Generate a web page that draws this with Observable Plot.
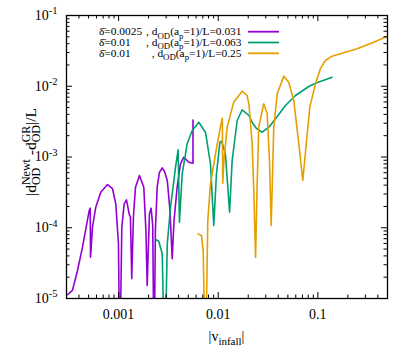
<!DOCTYPE html>
<html><head><meta charset="utf-8">
<script src="https://cdn.jsdelivr.net/npm/d3@7"></script>
<script src="https://cdn.jsdelivr.net/npm/@observablehq/plot@0.6"></script>
<style>
html,body{margin:0;padding:0;background:#fff;}
#chart{width:415px;height:363px;}
</style></head><body><div id="chart"></div>
<script>
// ---- data (1e-6 marks dips to zero below the axis) ----
const purpleV = [3.07e-4,3.44e-4,3.87e-4,4.34e-4,5.07e-4,5.19e-4,5.23e-4,5.47e-4,5.90e-4,6.62e-4,7.74e-4,8.69e-4,9.37e-4,9.97e-4,1.028e-3,1.077e-3,1.138e-3,1.20e-3,1.276e-3,1.315e-3,1.355e-3,1.41e-3,1.478e-3,1.62e-3,1.79e-3,1.88e-3,1.936e-3,2.00e-3,2.04e-3,2.12e-3,2.20e-3,2.27e-3,2.34e-3,2.44e-3,2.57e-3,2.74e-3,2.89e-3,3.08e-3,3.28e-3,3.45e-3,3.60e-3,3.87e-3,4.18e-3,4.51e-3,5.07e-3,5.58e-3,5.58e-3];
const purpleD = [1.13e-5,1.30e-5,2.49e-5,5.31e-5,1.75e-4,1.89e-4,3.84e-5,1.02e-4,1.95e-4,3.18e-4,4.08e-4,3.56e-4,2.18e-4,5.93e-5,1e-6,1.02e-4,2.18e-4,2.48e-4,1.57e-4,1.41e-4,1.90e-5,1.49e-4,3.74e-4,5.48e-4,3.74e-4,9.14e-5,1.53e-5,6.61e-5,1.57e-4,1.89e-4,1.08e-4,1e-6,9.14e-5,3.74e-4,6.04e-4,7.03e-4,6.24e-4,4.66e-4,1.75e-4,3.64e-5,1.26e-4,3.74e-4,8.02e-4,9.93e-4,8.43e-4,8.16e-4,3.33e-3];

const greenV = [2.38e-3,2.53e-3,2.74e-3,2.91e-3,3.08e-3,3.32e-3,3.73e-3,3.96e-3,4.08e-3,4.35e-3,4.88e-3,5.48e-3,6.38e-3,7.45e-3,8.36e-3,9.02e-3,9.60e-3,1.04e-2,1.08e-2,1.18e-2,1.30e-2,1.38e-2,1.55e-2,1.74e-2,2.03e-2,2.19e-2,2.42e-2,2.76e-2,3.22e-2,3.76e-2,4.73e-2,5.96e-2,8.11e-2,9.46e-2,0.139];
const greenD = [6.76e-5,6.46e-5,4.29e-5,1e-6,5.93e-5,1.95e-4,7.18e-4,1.26e-3,1.20e-4,5.79e-4,1.54e-3,2.37e-3,3.10e-3,2.24e-3,8.02e-4,1.08e-4,5.79e-4,1.62e-3,1.67e-3,1.11e-3,1.66e-4,8.93e-4,3.28e-3,4.65e-3,3.86e-3,3.10e-3,2.53e-3,2.24e-3,2.64e-3,3.47e-3,5.35e-3,7.40e-3,9.92e-3,1.10e-2,1.34e-2];

const orangeV = [6.27e-3,6.79e-3,7.06e-3,7.45e-3,7.86e-3,8.36e-3,9.39e-3,1.05e-2,1.10e-2,1.11e-2,1.14e-2,1.23e-2,1.43e-2,1.74e-2,1.95e-2,2.04e-2,2.19e-2,2.28e-2,2.37e-2,2.45e-2,2.55e-2,2.86e-2,3.10e-2,3.27e-2,3.40e-2,3.61e-2,3.91e-2,4.55e-2,5.10e-2,5.73e-2,6.44e-2,7.06e-2,7.82e-2,8.30e-2,9.46e-2,0.106,0.119,0.139,0.182,0.248,0.364,0.50];
const orangeD = [8.20e-5,7.76e-5,4.76e-5,1e-6,1.26e-4,4.18e-4,1.11e-3,2.64e-3,3.53e-3,4.27e-4,8.93e-4,2.64e-3,5.96e-3,8.51e-3,7.40e-3,5.35e-3,1.54e-3,3.02e-4,3.80e-5,3.37e-4,2.64e-3,5.65e-3,4.08e-3,8.93e-4,1.08e-4,2.64e-3,7.82e-3,1.39e-2,1.14e-2,6.30e-3,1.54e-3,4.66e-4,2.13e-3,5.06e-3,1.08e-2,1.77e-2,2.31e-2,2.66e-2,2.97e-2,3.38e-2,4.20e-2,5.09e-2];

const seriesNames  = ["delta0.0025", "delta0.01a", "delta0.01b"];
const seriesColors = ["#9400D3", "#009E73", "#E69F00"];
const legendLeft   = ["δ\u0304=0.0025", "δ\u0304=0.01", "δ\u0304=0.01"];
const legendRight  = ["0.031", "0.063", "0.25"];

const xMajorTicks = [0.001, 0.01, 0.1];
const xTickLabels = ["0.001", "0.01", "0.1"];
const xMinorTicks = [0.0003,0.0004,0.0005,0.0006,0.0007,0.0008,0.0009,0.002,0.003,0.004,0.005,0.006,0.007,0.008,0.009,0.02,0.03,0.04,0.05,0.06,0.07,0.08,0.09,0.2,0.3,0.4];
const yMajorTicks = [1e-5, 1e-4, 1e-3, 1e-2, 1e-1];
const yTickExps   = ["-5", "-4", "-3", "-2", "-1"];
const yMinorTicks = [2e-5,3e-5,4e-5,5e-5,6e-5,7e-5,8e-5,9e-5,2e-4,3e-4,4e-4,5e-4,6e-4,7e-4,8e-4,9e-4,2e-3,3e-3,4e-3,5e-3,6e-3,7e-3,8e-3,9e-3,2e-2,3e-2,4e-2,5e-2,6e-2,7e-2,8e-2,9e-2];

// ---- build table ----
const allV = [purpleV, greenV, orangeV], allD = [purpleD, greenD, orangeD];
const rows = [];
allV.forEach((vs, k) => vs.forEach((v, i) => rows.push({v, d: allD[k][i], s: seriesNames[k]})));

const W = 415, H = 363, mL = 66, mR = 28, mT = 15, mB = 65;
const pw = W - mL - mR, ph = H - mT - mB;
const majL = 6, minL = 3.5;

const svgNode = Plot.plot({
  width: W, height: H,
  marginLeft: mL, marginRight: mR, marginTop: mT, marginBottom: mB,
  style: {fontFamily: "'Liberation Serif', 'Times New Roman', serif", fontSize: "14px", background: "#fff", color: "#000"},
  x: {type: "log", domain: [3e-4, 0.5]},
  y: {type: "log", domain: [1e-5, 0.1]},
  color: {domain: seriesNames, range: seriesColors},
  marks: [
    Plot.line(rows, {x: "v", y: "d", z: "s", stroke: "s", strokeWidth: 1.6, clip: true}),
    // inward ticks, mirrored on all sides
    Plot.tickX(xMajorTicks, {x: d => d, insetTop: ph - majL, stroke: "#000"}),
    Plot.tickX(xMajorTicks, {x: d => d, insetBottom: ph - majL, stroke: "#000"}),
    Plot.tickX(xMinorTicks, {x: d => d, insetTop: ph - minL, stroke: "#000"}),
    Plot.tickX(xMinorTicks, {x: d => d, insetBottom: ph - minL, stroke: "#000"}),
    Plot.tickY(yMajorTicks, {y: d => d, insetRight: pw - majL, stroke: "#000"}),
    Plot.tickY(yMajorTicks, {y: d => d, insetLeft: pw - majL, stroke: "#000"}),
    Plot.tickY(yMinorTicks, {y: d => d, insetRight: pw - minL, stroke: "#000"}),
    Plot.tickY(yMinorTicks, {y: d => d, insetLeft: pw - minL, stroke: "#000"}),
    Plot.axisX(xMajorTicks, {tickSize: 0, tickPadding: 11, label: null, fontSize: 14,
      tickFormat: d => xTickLabels[xMajorTicks.indexOf(d)]}),
    Plot.axisY(yMajorTicks, {tickSize: 0, tickPadding: 9, label: null, fontSize: 14,
      tickFormat: d => "10^" + yTickExps[yMajorTicks.indexOf(d)]}),
    Plot.frame({stroke: "#000", strokeWidth: 1.3})
  ]
});
document.getElementById("chart").appendChild(svgNode);
const svg = d3.select(svgNode);

// superscripts on y tick labels
svg.selectAll('g[aria-label="y-axis tick label"] text').each(function() {
  const [base, exp] = this.textContent.split("^");
  const t = d3.select(this); t.text(null);
  t.append("tspan").text(base);
  t.append("tspan").attr("dy", -5.5).attr("font-size", 10.5).text(exp);
});

// rich text helper (sub/superscripts, stacked when adjacent)
function richInto(text, segs, size, small) {
  let level = 0; const made = [];
  segs.forEach(([t, type]) => {
    const target = type === "sup" ? -0.42 * size : type === "sub" ? 0.28 * size : 0;
    const ts = text.append("tspan").text(t).attr("font-size", type === "n" ? size : small);
    if (target - level !== 0) ts.attr("dy", target - level);
    level = target;
    made.push({type, ts});
  });
  for (let i = 1; i < made.length; i++) {
    const a = made[i - 1], b = made[i];
    if ((a.type === "sup" && b.type === "sub") || (a.type === "sub" && b.type === "sup")) {
      const wa = a.ts.node().getComputedTextLength(), wb = b.ts.node().getComputedTextLength();
      b.ts.attr("dx", -wa);
      if (made[i + 1]) made[i + 1].ts.attr("dx", Math.max(wa - wb, 0));
    }
  }
  return made;
}
function rich(parent, segs, size, small) {
  const text = parent.append("text").attr("font-size", size).attr("fill", "#000").attr("text-anchor", "start");
  richInto(text, segs, size, small);
  return text;
}

// y label
const gy = svg.append("g").attr("text-anchor", "start").attr("transform", "translate(36,152) rotate(-90)");
const ylab = rich(gy, [["|d","n"],["Newt","sup"],["OD","sub"],[" -d","n"],["GR","sup"],["OD","sub"],["|/L","n"]], 15.5, 12);
ylab.attr("x", -ylab.node().getBBox().width / 2);

// x label
const gx = svg.append("g").attr("text-anchor", "start").attr("transform", "translate(0,341)");
const xlab = rich(gx, [["|v","n"],["infall","sub"],["|","n"]], 14, 11);
xlab.attr("x", 226.5 - xlab.node().getBBox().width / 2);

// legend (one text element per row)
const legY = [31.7, 42.5, 53.3];
seriesNames.forEach((s, i) => {
  const text = svg.append("text").attr("font-size", 11.4).attr("fill", "#000").attr("text-anchor", "start")
    .attr("transform", `translate(0,${legY[i] + 3.7})`);
  text.append("tspan").attr("x", 99).text(legendLeft[i]);
  const made = richInto(text, [[", d","n"],["OD","sub"],["(a","n"],["p","sub"],["=1)/L=" + legendRight[i],"n"]], 11.4, 8.8);
  const w = d3.sum(made, m => m.ts.node().getComputedTextLength());
  made[0].ts.attr("x", 241.5 - w);
  svg.append("line").attr("x1", 248).attr("x2", 279).attr("y1", legY[i]).attr("y2", legY[i])
    .attr("stroke", seriesColors[i]).attr("stroke-width", 1.8);
});
</script></body></html>
